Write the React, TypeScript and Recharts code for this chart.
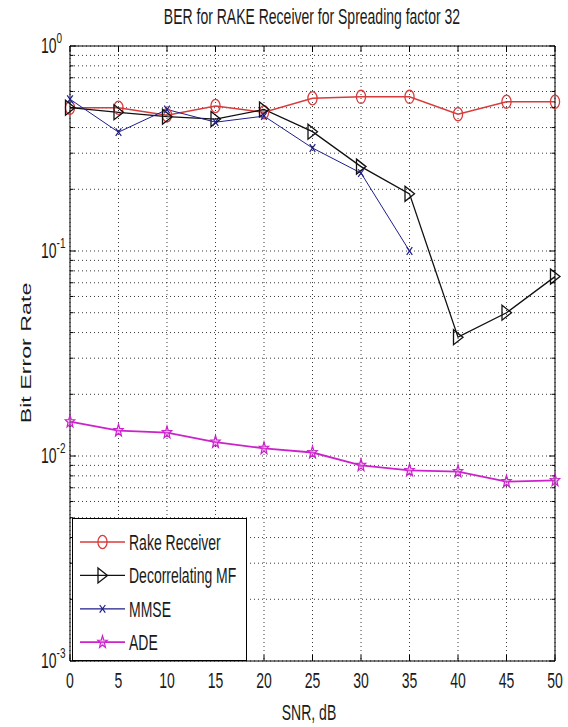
import React from 'react';
import { LineChart, Line, XAxis, YAxis, CartesianGrid, Legend } from 'recharts';

// values (log y axis)
const snr = [0, 5, 10, 15, 20, 25, 30, 35, 40, 45, 50];
const rakeReceiver = [0.5, 0.5, 0.46, 0.51, 0.475, 0.556, 0.565, 0.565, 0.465, 0.535, 0.535];
const decorrelatingMF = [0.5, 0.475, 0.452, 0.44, 0.49, 0.382, 0.258, 0.19, 0.038, 0.05, 0.075];
const mmse = [0.55, 0.38, 0.49, 0.425, 0.455, 0.318, 0.24, 0.1, null, null, null];
const ade = [0.0147, 0.0133, 0.013, 0.0117, 0.0109, 0.0104, 0.009, 0.0085, 0.0084, 0.0075, 0.0076];

const seriesOrder = ['rake', 'decor', 'mmse', 'ade'];

const xTicks = [0, 5, 10, 15, 20, 25, 30, 35, 40, 45, 50];
const yTicks = [
  0.001, 0.002, 0.003, 0.004, 0.005, 0.006, 0.007, 0.008, 0.009,
  0.01, 0.02, 0.03, 0.04, 0.05, 0.06, 0.07, 0.08, 0.09,
  0.1, 0.2, 0.3, 0.4, 0.5, 0.6, 0.7, 0.8, 0.9, 1,
];
const yDecades = [0.001, 0.01, 0.1, 1];
const yDecadeExp = ['-3', '-2', '-1', '0'];

const data = snr.map((s, i) => ({
  snr: s,
  rake: rakeReceiver[i],
  decor: decorrelatingMF[i],
  mmse: mmse[i],
  ade: ade[i],
}));

const FONT = '"Liberation Sans", Arial, Helvetica, sans-serif';
const STRETCH = 1.55; // the reference is stretched vertically
const TXT = '#1a1a1a';

const COLORS: Record<string, string> = {
  rake: '#d83c3c',
  decor: '#111111',
  mmse: '#1e1e8c',
  ade: '#cc22cc',
};

const decadeIndex = (v: number) => yDecades.findIndex((d) => Math.abs(d - v) / d < 1e-6);

const starPoints = (cx: number, cy: number, R: number, r: number, sy: number) => {
  const pts: string[] = [];
  for (let k = 0; k < 10; k++) {
    const a = -Math.PI / 2 + (k * Math.PI) / 5;
    const rad = k % 2 === 0 ? R : r;
    pts.push(`${cx + rad * Math.cos(a)},${cy + rad * Math.sin(a) * sy}`);
  }
  return pts.join(' ');
};

const marker = (kind: string, cx: number, cy: number, key?: any) => {
  if (cx == null || cy == null || isNaN(cx) || isNaN(cy)) return <g key={key} />;
  const c = COLORS[kind];
  if (kind === 'rake') {
    return <ellipse key={key} cx={cx} cy={cy} rx={4.6} ry={6.6} fill="none" stroke={c} strokeWidth={1.3} />;
  }
  if (kind === 'decor') {
    return (
      <polygon
        key={key}
        points={`${cx - 4.5},${cy - 7.5} ${cx + 5},${cy} ${cx - 4.5},${cy + 7.5}`}
        fill="none"
        stroke={c}
        strokeWidth={1.3}
      />
    );
  }
  if (kind === 'mmse') {
    return (
      <g key={key} stroke={c} strokeWidth={1.2}>
        <line x1={cx - 2.8} y1={cy - 3.8} x2={cx + 2.8} y2={cy + 3.8} />
        <line x1={cx - 2.8} y1={cy + 3.8} x2={cx + 2.8} y2={cy - 3.8} />
      </g>
    );
  }
  return (
    <polygon
      key={key}
      points={starPoints(cx, cy, 5, 2.1, 1.3)}
      fill="rgba(235,120,235,0.4)"
      stroke={c}
      strokeWidth={1.2}
    />
  );
};

const dotFor = (kind: string) => (p: any) => marker(kind, p.cx, p.cy, `${kind}-${p.index}`);

const LeftTick = (props: any) => {
  const { x, y, payload } = props;
  const di = decadeIndex(payload.value);
  const major = di >= 0;
  return (
    <g>
      <line x1={x} y1={y} x2={x + (major ? 6 : 3.5)} y2={y} stroke="#000" />
      {major && (
        <g transform={`translate(${x - 29},${y}) scale(1,${STRETCH})`}>
          <text x={0} y={4.8} fontSize={14} fontFamily={FONT} fill={TXT}>
            10
            <tspan fontSize={10} dy={-7}>
              {yDecadeExp[di]}
            </tspan>
          </text>
        </g>
      )}
    </g>
  );
};

const RightTick = (props: any) => {
  const { x, y, payload } = props;
  const major = decadeIndex(payload.value) >= 0;
  return <line x1={x} y1={y} x2={x - (major ? 6 : 3.5)} y2={y} stroke="#000" />;
};

const BottomTick = (props: any) => {
  const { x, y, payload } = props;
  return (
    <g>
      <line x1={x} y1={y} x2={x} y2={y - 6} stroke="#000" />
      <g transform={`translate(${x},${y}) scale(1,${STRETCH})`}>
        <text x={0} y={17.5} textAnchor="middle" fontSize={14} fontFamily={FONT} fill={TXT}>
          {payload.value}
        </text>
      </g>
    </g>
  );
};

const TopTick = (props: any) => {
  const { x, y } = props;
  return <line x1={x} y1={y} x2={x} y2={y + 6} stroke="#000" />;
};

const renderLegend = (props: any) => {
  const items = [...(props.payload || [])].sort(
    (a: any, b: any) => seriesOrder.indexOf(a.dataKey) - seriesOrder.indexOf(b.dataKey)
  );
  return (
    <svg width={175} height={143} style={{ display: 'block' }}>
      <rect x={0.5} y={0.5} width={174} height={142} fill="#fff" stroke="#000" />
      {items.map((it: any, i: number) => {
        const cy = 24 + i * 33.4;
        const kind = it.dataKey as string;
        return (
          <g key={kind}>
            <line x1={8} x2={53} y1={cy} y2={cy} stroke={COLORS[kind]} strokeWidth={kind === 'ade' ? 1.8 : 1.3} />
            {marker(kind, 30.5, cy)}
            <g transform={`translate(57,${cy}) scale(1,${STRETCH})`}>
              <text x={0} y={5} fontSize={14} fontFamily={FONT} fill={TXT}>
                {it.value}
              </text>
            </g>
          </g>
        );
      })}
    </svg>
  );
};

export default function App() {
  return (
    <div style={{ position: 'absolute', left: 0, top: 0, width: 568, height: 727, background: '#fff' }}>
      <LineChart width={568} height={727} data={data} margin={{ top: 0, right: 0, bottom: 0, left: 0 }}>
        <XAxis
          xAxisId="b"
          dataKey="snr"
          type="number"
          domain={[0, 50]}
          ticks={xTicks}
          height={66}
          stroke="#000"
          tickSize={0}
          tickMargin={0}
          tick={<BottomTick />}
          interval={0}
        />
        <XAxis
          xAxisId="t"
          orientation="top"
          dataKey="snr"
          type="number"
          domain={[0, 50]}
          ticks={xTicks}
          height={46}
          stroke="#000"
          tickSize={0}
          tickMargin={0}
          tick={<TopTick />}
          interval={0}
        />
        <YAxis
          yAxisId="l"
          scale="log"
          type="number"
          domain={[0.001, 1]}
          ticks={yTicks}
          allowDataOverflow
          width={70}
          stroke="#000"
          tickSize={0}
          tickMargin={0}
          tick={<LeftTick />}
          interval={0}
        />
        <YAxis
          yAxisId="r"
          orientation="right"
          scale="log"
          type="number"
          domain={[0.001, 1]}
          ticks={yTicks}
          allowDataOverflow
          width={13}
          stroke="#000"
          tickSize={0}
          tickMargin={0}
          tick={<RightTick />}
          interval={0}
        />
        <CartesianGrid xAxisId="b" yAxisId="l" stroke="#222" strokeDasharray="1 3" strokeWidth={0.9} />
        <Line
          xAxisId="b"
          yAxisId="l"
          name="Rake Receiver"
          dataKey="rake"
          stroke={COLORS.rake}
          strokeWidth={1.5}
          dot={dotFor('rake')}
          activeDot={false}
          isAnimationActive={false}
        />
        <Line
          xAxisId="b"
          yAxisId="l"
          name="Decorrelating MF"
          dataKey="decor"
          stroke={COLORS.decor}
          strokeWidth={1.3}
          dot={dotFor('decor')}
          activeDot={false}
          isAnimationActive={false}
        />
        <Line
          xAxisId="b"
          yAxisId="l"
          name="MMSE"
          dataKey="mmse"
          stroke={COLORS.mmse}
          strokeWidth={1}
          dot={dotFor('mmse')}
          activeDot={false}
          isAnimationActive={false}
        />
        <Line
          xAxisId="b"
          yAxisId="l"
          name="ADE"
          dataKey="ade"
          stroke={COLORS.ade}
          strokeWidth={1.8}
          dot={dotFor('ade')}
          activeDot={false}
          isAnimationActive={false}
        />
        <Legend
          layout="vertical"
          align="center"
          verticalAlign="middle"
          content={renderLegend}
          wrapperStyle={{ position: 'absolute', left: 72, top: 518, width: 175, height: 143 }}
        />
      </LineChart>
      <svg width={568} height={727} style={{ position: 'absolute', left: 0, top: 0, pointerEvents: 'none' }}>
        <g transform={`translate(312,24) scale(1,${STRETCH})`}>
          <text x={0} y={0} textAnchor="middle" fontSize={14} fontFamily={FONT} fill={TXT}>
            BER for RAKE Receiver for Spreading factor 32
          </text>
        </g>
        <g transform={`translate(309,720) scale(1,${STRETCH})`}>
          <text x={0} y={0} textAnchor="middle" fontSize={14} fontFamily={FONT} fill={TXT}>
            SNR, dB
          </text>
        </g>
        <g transform={`translate(25,353) rotate(-90) scale(${STRETCH},1)`}>
          <text x={0} y={5.5} textAnchor="middle" fontSize={15} fontFamily={FONT} fill={TXT}>
            Bit Error Rate
          </text>
        </g>
      </svg>
    </div>
  );
}
